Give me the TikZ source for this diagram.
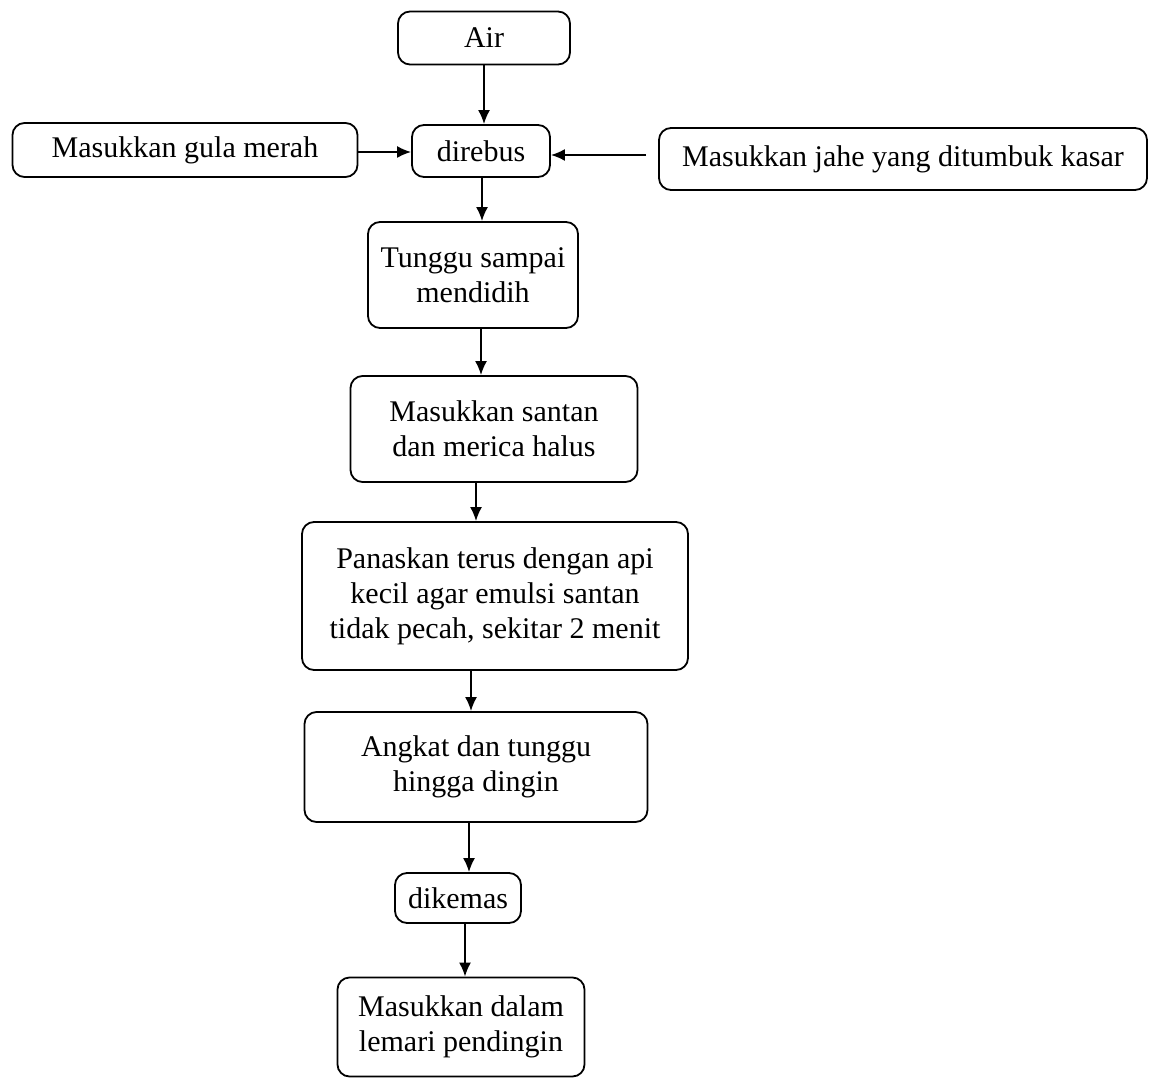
\documentclass[tikz,border=0pt]{standalone}
\usepackage{fontspec}
\setmainfont{Liberation Serif}
\usetikzlibrary{arrows.meta}
\begin{document}
\begin{tikzpicture}[x=0.5pt,y=-0.5pt,
  box/.style={draw,line width=0.9pt,rounded corners=6pt,inner sep=0pt,align=center,
    font=\fontsize{15}{17.5}\selectfont},
  arr/.style={line width=0.9pt,-{Latex[length=7pt,width=6pt]}}]
\useasboundingbox (0,0) rectangle (1149,1079);
\node[box,minimum width=86pt,minimum height=26.5pt] (air) at (484,38) {Air};
\node[box,minimum width=172.5pt,minimum height=27pt] (gula) at (185,150) {Masukkan gula merah};
\node[box,minimum width=69pt,minimum height=26pt] (rebus) at (481,151) {direbus};
\node[box,minimum width=244pt,minimum height=31pt] (jahe) at (903,159) {Masukkan jahe yang ditumbuk kasar};
\node[box,minimum width=105pt,minimum height=53pt] (tunggu) at (473,275) {Tunggu sampai\\mendidih};
\node[box,minimum width=143.5pt,minimum height=53pt] (santan) at (494,429) {Masukkan santan\\dan merica halus};
\node[box,minimum width=193pt,minimum height=74pt] (panas) at (495,596) {Panaskan terus dengan api\\kecil agar emulsi santan\\tidak pecah, sekitar 2 menit};
\node[box,minimum width=171.5pt,minimum height=55pt] (angkat) at (476,767) {Angkat dan tunggu\\hingga dingin};
\node[box,minimum width=63pt,minimum height=25pt] (kemas) at (458,898) {dikemas};
\node[box,minimum width=123.5pt,minimum height=49.5pt] (lemari) at (461,1027) {Masukkan dalam\\lemari pendingin};

\draw[arr] (air.south -| 484,0) -- (rebus.north -| 484,0);
\draw[arr] (gula.east |- 0,152) -- (rebus.west |- 0,152);
\draw[arr,shorten <=6pt] (jahe.west |- 0,155) -- (rebus.east |- 0,155);
\draw[arr] (rebus.south -| 482,0) -- (tunggu.north -| 482,0);
\draw[arr] (tunggu.south -| 481,0) -- (santan.north -| 481,0);
\draw[arr] (santan.south -| 476,0) -- (panas.north -| 476,0);
\draw[arr] (panas.south -| 471,0) -- (angkat.north -| 471,0);
\draw[arr] (angkat.south -| 469,0) -- (kemas.north -| 469,0);
\draw[arr] (kemas.south -| 465,0) -- (lemari.north -| 465,0);
\end{tikzpicture}
\end{document}
